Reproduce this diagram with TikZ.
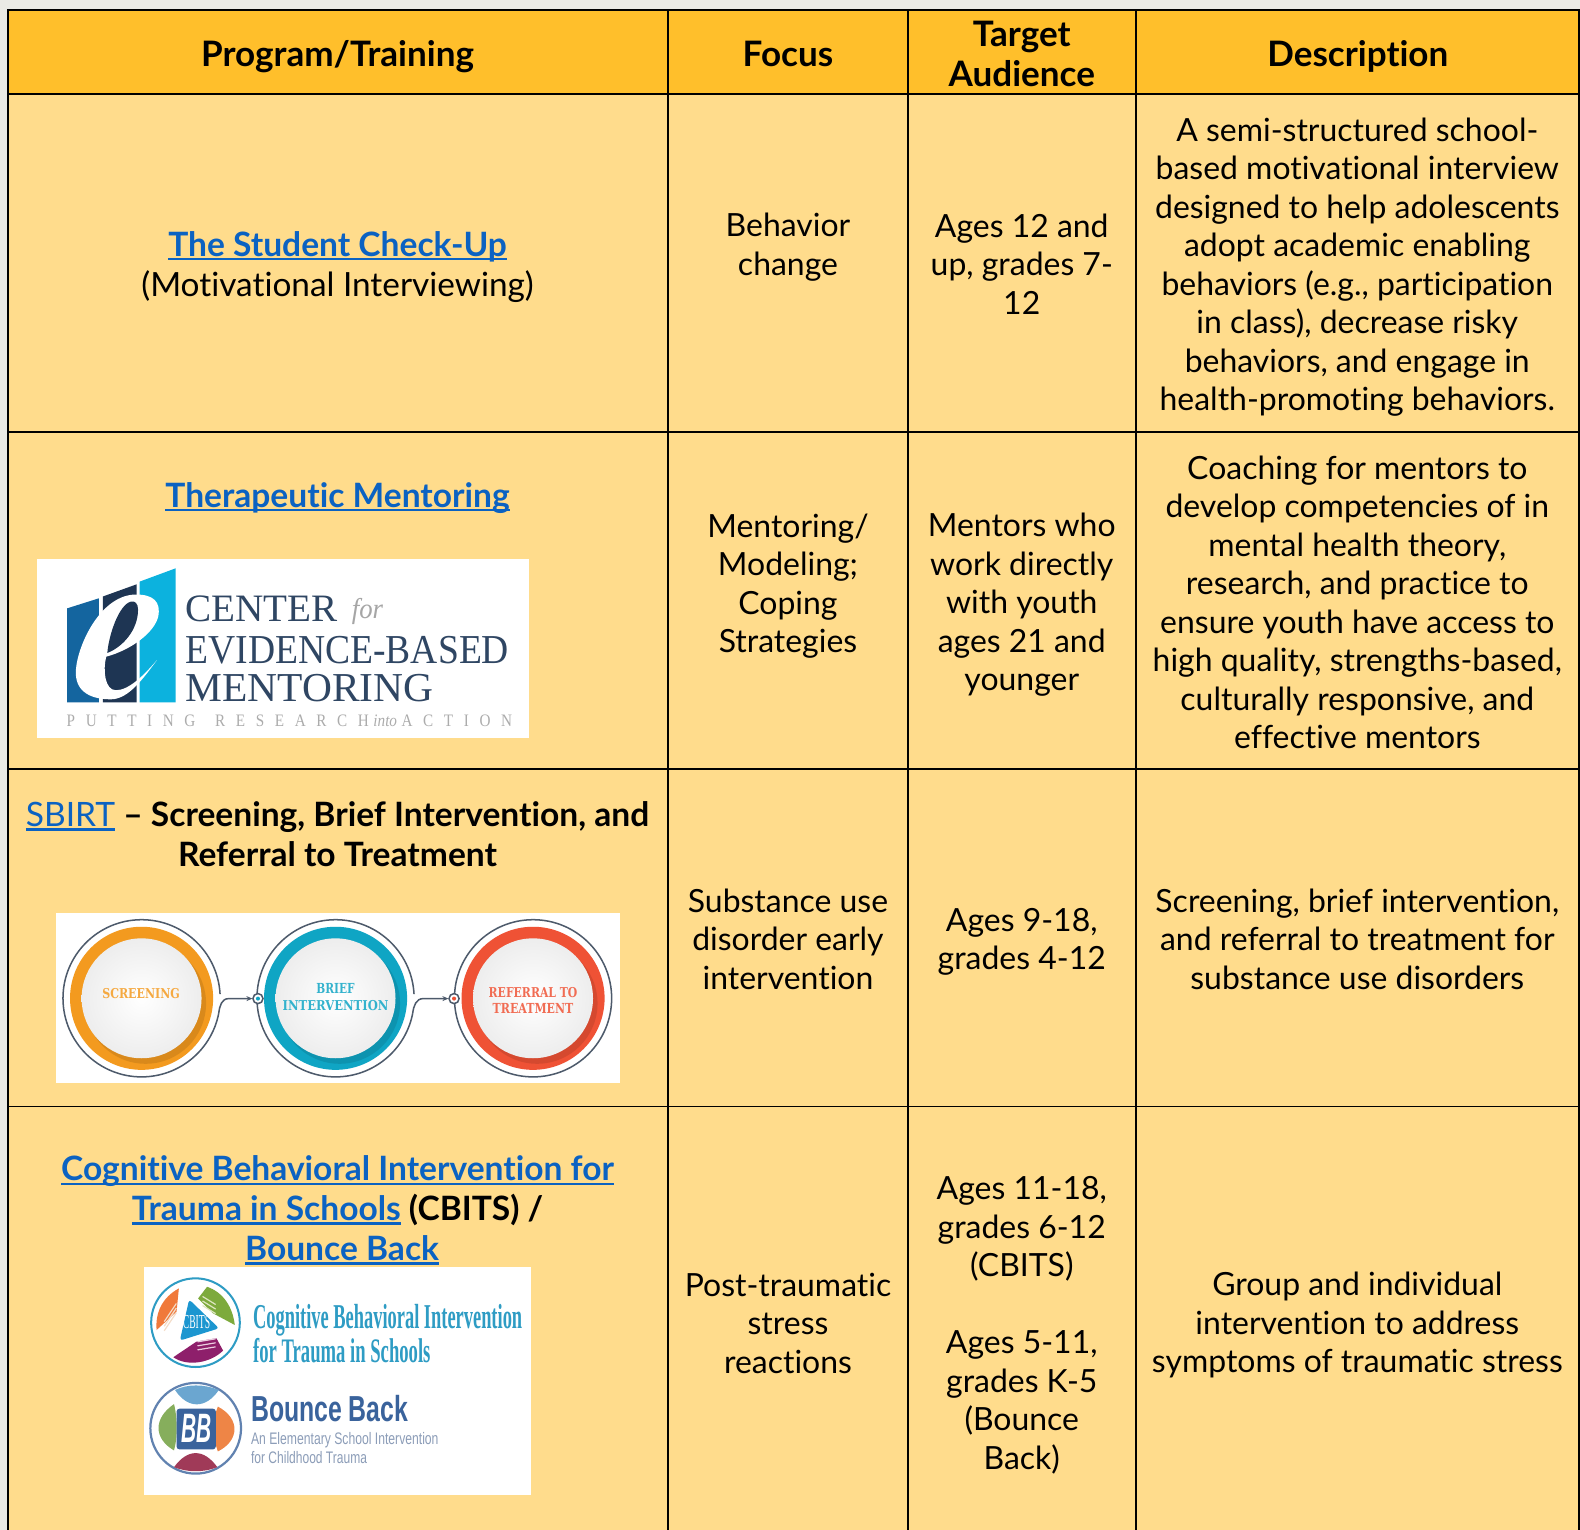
\documentclass[tikz,border=0pt]{standalone}
\usepackage{graphicx}
\usepackage{fontspec}
\setmainfont{Lato}[Ligatures=NoCommon]
\newfontfamily\logoserif{Liberation Serif}
\newfontfamily\slab{DejaVu Serif}
\newfontfamily\logosans{Liberation Sans}
\definecolor{pagebg}{HTML}{EAEAE5}
\definecolor{headfill}{HTML}{FFBF2B}
\definecolor{bodyfill}{HTML}{FFDC8C}
\definecolor{linkc}{HTML}{0B62C2}
\definecolor{navylogo}{HTML}{2F4663}
\definecolor{panelA}{HTML}{14659F}
\definecolor{panelB}{HTML}{1E3553}
\definecolor{panelC}{HTML}{0CB2DE}
\definecolor{ringO}{HTML}{F39A1F}
\definecolor{ringT}{HTML}{0FA5C4}
\definecolor{ringR}{HTML}{EF5235}
\definecolor{ringline}{HTML}{4D5A6B}
\definecolor{cbteal}{HTML}{2E9CC4}
\definecolor{bbblue}{HTML}{3A639C}
\definecolor{bbgray}{HTML}{8C9DB8}
\definecolor{cbO}{HTML}{F0793A}
\definecolor{cbG}{HTML}{7DAA3C}
\definecolor{cbM}{HTML}{8E1F6B}
\definecolor{cbB}{HTML}{1C96D0}
\definecolor{cbOl}{HTML}{F3DCC8}
\definecolor{cbGl}{HTML}{DDE5C0}
\definecolor{cbMl}{HTML}{EBCDE0}
\definecolor{bbT}{HTML}{6BA6D0}
\definecolor{bbL}{HTML}{86AE5C}
\definecolor{bbR}{HTML}{EE8546}
\definecolor{bbD}{HTML}{A03A58}
\newcommand\lnk[1]{\textcolor{linkc}{\setbox0\hbox{#1}\rlap{\rule[-0.115em]{\wd0}{0.065em}}\box0}}
\newcommand\fit[3]{\resizebox{#1pt}{#2pt}{#3}}
\tikzset{
 cell/.style={align=center,inner sep=0pt,font=\fontsize{31.7}{38.2}\selectfont},
 cellbig/.style={align=center,inner sep=0pt,font=\fontsize{33.1}{39.8}\selectfont},
 headcell/.style={align=center,inner sep=0pt,font=\fontsize{34.8}{40}\selectfont\bfseries},
 titlecell/.style={align=center,inner sep=0pt,font=\fontsize{33.3}{39.6}\selectfont\bfseries},
 grid/.style={line width=1.8pt,black},
 logotext/.style={inner sep=0pt,anchor=base west},
 ringtext/.style={inner sep=0pt,anchor=center},
 ringstroke/.style={draw=ringline,line width=1.5pt},
 ringarrow/.style={ringstroke,-{Stealth[length=6pt,width=5pt]}},
}
\usetikzlibrary{arrows.meta}
\begin{document}
\begin{tikzpicture}[x=1pt,y=-1pt]
\useasboundingbox (0,0) rectangle (1568,1518);
\clip (0,0) rectangle (1568,1518);
\fill[pagebg] (0,0) rectangle (1568,1518);
\fill[headfill] (8,10) rectangle (1568,93.5);
\fill[bodyfill] (8,93.5) rectangle (1568,1518);
% grid
\draw[grid] (8,1518) -- (8,10) -- (1567.2,10) -- (1567.2,1518);
\foreach \gx in {663,901,1127} \draw[grid] (\gx,10) -- (\gx,1518);
\foreach \gy in {93.5,429,763,1098} \draw[grid] (8,\gy) -- (1568,\gy);
% header
\node[headcell] (h1) at (335,56) {Program/Training};
\node[headcell] (h2) at (782,53.5) {Focus};
\node[headcell] (h3) at (1014,53.5) {Target\\Audience};
\node[headcell] (h4) at (1347.5,56) {Description};
% row 1
\node[titlecell] (r1a) at (335,245) {\lnk{The Student Check-Up}};
\node[cellbig] (r1a2) at (335,284) {(Motivational Interviewing)};
\node[cell] (r1b) at (782,245.5) {Behavior\\change};
\node[cell] (r1c) at (1014,262) {Ages 12 and\\up, grades 7-\\12};
\node[cell] (r1d) at (1347,265) {A semi-structured school-\\based motivational interview\\designed to help adolescents\\adopt academic enabling\\behaviors (e.g., participation\\in class), decrease risky\\behaviors, and engage in\\health-promoting behaviors.};
% row 2
\node[titlecell] (r2a) at (335,494) {\lnk{Therapeutic Mentoring}};
\node[cell] (r2b) at (782,581.5) {Mentoring/\\Modeling;\\Coping\\Strategies};
\node[cell] (r2c) at (1014,600.5) {Mentors who\\work directly\\with youth\\ages 21 and\\younger};
\node[cell] (r2d) at (1347,598) {Coaching for mentors to\\develop competencies of in\\mental health theory,\\research, and practice to\\ensure youth have access to\\high quality, strengths-based,\\culturally responsive, and\\effective mentors};
% row 3
\node[titlecell] (r3a) at (335,828) {\lnk{\mdseries SBIRT} -- Screening, Brief Intervention, and\\Referral to Treatment};
\node[cell] (r3b) at (782,932) {Substance use\\disorder early\\intervention};
\node[cell] (r3c) at (1014,934.5) {Ages 9-18,\\grades 4-12};
\node[cell] (r3d) at (1347,932) {Screening, brief intervention,\\and referral to treatment for\\substance use disorders};
% row 4
\node[titlecell] (r4a) at (335,1201) {\lnk{Cognitive Behavioral Intervention for}\\\lnk{Trauma in Schools} (CBITS) /\\\hspace*{9pt}\lnk{Bounce Back}};
\node[cell] (r4b) at (782,1313) {Post-traumatic\\stress\\reactions};
\node[cell] (r4c) at (1014,1315) {Ages 11-18,\\grades 6-12\\(CBITS)\\[38.2pt]Ages 5-11,\\grades K-5\\(Bounce\\Back)};
\node[cell] (r4d) at (1347,1315) {Group and individual\\intervention to address\\symptoms of traumatic stress};
% ---- logo: Center for Evidence-Based Mentoring
\fill[white] (37,555) rectangle (525,732);
\fill[panelA] (66.7,603.7) -- (98,593.8) -- (98,697) -- (66.7,697) -- cycle;
\fill[panelB] (102,592) -- (135.5,579.9) -- (135.5,697) -- (102,697) -- cycle;
\fill[panelC] (138.6,577.2) -- (174.3,564) -- (174.3,697) -- (138.6,697) -- cycle;
\fill[white] (155.8,655) .. controls (143,672) and (128,694) .. (110,694) .. controls (88,694) and (74,685) .. (75.3,665) .. controls (77,640) and (100,590) .. (135,590) .. controls (152,590) and (160,597) .. (157,612) .. controls (153,628) and (130,645) .. (105.4,651.7) .. controls (102,665) and (104,685) .. (115,685) .. controls (128,685) and (143,670) .. (155.8,655) -- cycle;
\fill[panelB] (130,597) .. controls (118,600) and (108,630) .. (106.5,648) .. controls (122,642) and (137,625) .. (137,605) .. controls (137,599) and (134,596) .. (130,597) -- cycle;
\node[logotext,navylogo] (lc1) at (184,617) {\fit{151}{25.5}{\logoserif CENTER}};
\node[logotext,gray!70] (lc2) at (349,614) {\fit{31}{20}{\logoserif\itshape for}};
\node[logotext,navylogo] (lc3) at (184,658) {\fit{321}{27}{\logoserif EVIDENCE-BASED}};
\node[logotext,navylogo] (lc4) at (184,696) {\fit{246}{27}{\logoserif MENTORING}};
\node[logotext,gray!65] (lc5) at (66,721) {\fit{442}{11.5}{\logoserif P\hspace{.7em}U\hspace{.7em}T\hspace{.7em}T\hspace{.7em}I\hspace{.7em}N\hspace{.7em}G\hspace{1.3em}R\hspace{.7em}E\hspace{.7em}S\hspace{.7em}E\hspace{.7em}A\hspace{.7em}R\hspace{.7em}C\hspace{.7em}H\hspace{.3em}\textit{into}\hspace{.3em}A\hspace{.7em}C\hspace{.7em}T\hspace{.7em}I\hspace{.7em}O\hspace{.7em}N}};
% ---- logo: SBIRT
\fill[white] (56,906) rectangle (615,1074.5);
\foreach \cx/\col in {140.5/ringO,333/ringT,529/ringR}{
  \fill[\col] (\cx,990.7) circle[radius=71];
  \begin{scope}
   \clip (\cx,990.7) circle[radius=71];
   \fill[\col!70!black,opacity=.35] (\cx+4,995.7) circle[radius=60];
  \end{scope}
  \path[shade,inner color=white,outer color=gray!14] (\cx,990.7) circle[radius=59.5];
}
\draw[ringstroke] (140.5,990.7) ++(-3:78) arc[start angle=-3,delta angle=-346,radius=78];
\coordinate (t1) at (250.5,991);
\draw[ringarrow] (140.5,990.7) ++(11:78) .. controls (218,998) and (220,991) .. (227,991) -- (t1);
\draw[ringstroke] (333,990.7) ++(-3:78) arc[start angle=-3,delta angle=-346,radius=78];
\coordinate (t2) at (445,991);
\draw[ringarrow] (333,990.7) ++(11:78) .. controls (410.5,998) and (413,991) .. (420,991) -- (t2);
\draw[ringstroke] (529,990.7) circle[radius=78];
\draw[ringline,line width=1.5pt,fill=white] (256,991) circle[radius=5];
\fill[ringT] (256,991) circle[radius=2];
\draw[ringline,line width=1.5pt,fill=white] (450.6,991) circle[radius=5];
\fill[ringR] (450.6,991) circle[radius=2];
\node[ringtext,ringO!85!white] (s1) at (140,986) {\fit{77}{10}{\slab\bfseries SCREENING}};
\node[ringtext,ringT!85!white] (s2) at (333,981) {\fit{38}{10}{\slab\bfseries BRIEF}};
\node[ringtext,ringT!85!white] (s3) at (333,998) {\fit{105}{10}{\slab\bfseries INTERVENTION}};
\node[ringtext,ringR!85!white] (s4) at (529,985) {\fit{88}{10}{\slab\bfseries REFERRAL TO}};
\node[ringtext,ringR!85!white] (s5) at (529,1001) {\fit{80}{10}{\slab\bfseries TREATMENT}};
% ---- logo: CBITS / Bounce Back
\fill[white] (143,1257) rectangle (526.5,1483.5);
\begin{scope}[shift={(194,1312.6)}]
 \draw[cbteal,line width=2pt] (0,0) circle[radius=44];
 \fill[cbO] (-16.5,-34) .. controls (-33,-25) and (-40,-10) .. (-38.6,7.3) -- (-18.8,-10.9) -- cycle;
 \fill[cbG] (11.5,-35.6) .. controls (28,-30) and (37,-15) .. (39,2.3) -- (17.5,-9.2) -- (2.6,-24) -- cycle;
 \fill[cbM] (-22,34.3) .. controls (-8,44) and (15,40) .. (27.4,27.7) -- (20.8,15.5) -- (1,18.8) -- cycle;
 \fill[cbB,rounded corners=3pt] (-6.3,-23) -- (23.4,5.6) -- (-15.5,17.8) -- cycle;
 \foreach \ay in {-19,-14.5,-10}{\draw[cbOl,line width=1.2pt] (-31,\ay+18) -- (-19,\ay);}
 \foreach \ay in {-30,-25.5,-21}{\draw[cbGl,line width=1.2pt] (7,\ay+4) -- (20,\ay+12);}
 \foreach \ay in {19,23,27}{\draw[cbMl,line width=1.2pt] (2,\ay) -- (20,\ay-3);}
 \node[inner sep=0pt,white] (cb) at (1,-1) {\fit{27}{13}{\logoserif CBITS}};
\end{scope}
\begin{scope}[shift={(194.2,1417.4)}]
 \draw[bbblue!80!white,line width=2.2pt] (0,0) circle[radius=45];
 \fill[bbT] (-20.5,-38) .. controls (-8,-44) and (8,-44) .. (23,-38) .. controls (10,-19) and (-8,-19) .. (-20.5,-38) -- cycle;
 \fill[bbL] (-21.5,-24) .. controls (-42,-10) and (-42,10) .. (-21.5,22) .. controls (-18,10) and (-18,-10) .. (-21.5,-24) -- cycle;
 \fill[bbR] (22,-21.5) .. controls (44,-10) and (44,12) .. (22,23) .. controls (17,10) and (17,-10) .. (22,-21.5) -- cycle;
 \fill[bbD] (-21.5,38.6) .. controls (-8,20) and (8,20) .. (21.5,38.6) .. controls (8,44) and (-8,44) .. (-21.5,38.6) -- cycle;
 \fill[bbblue,rounded corners=3pt] (-19,-19.5) rectangle (20,21);
 \node[inner sep=0pt,white] (bb) at (0.5,0.5) {\fit{30}{28}{\logosans\bfseries\itshape BB}};
\end{scope}
\node[logotext,cbteal] (c1) at (251,1318) {\fit{267}{24}{\logoserif\bfseries Cognitive Behavioral Intervention}};
\node[logotext,cbteal] (c2) at (251,1352) {\fit{176}{24}{\logoserif\bfseries for Trauma in Schools}};
\node[logotext,bbblue] (c3) at (249,1411) {\fit{156}{26}{\logosans\bfseries Bounce Back}};
\node[logotext,bbgray] (c4) at (249,1434) {\fit{186}{12}{\logosans An Elementary School Intervention}};
\node[logotext,bbgray] (c5) at (249,1452) {\fit{115}{12}{\logosans for Childhood Trauma}};
\end{tikzpicture}
\end{document}
